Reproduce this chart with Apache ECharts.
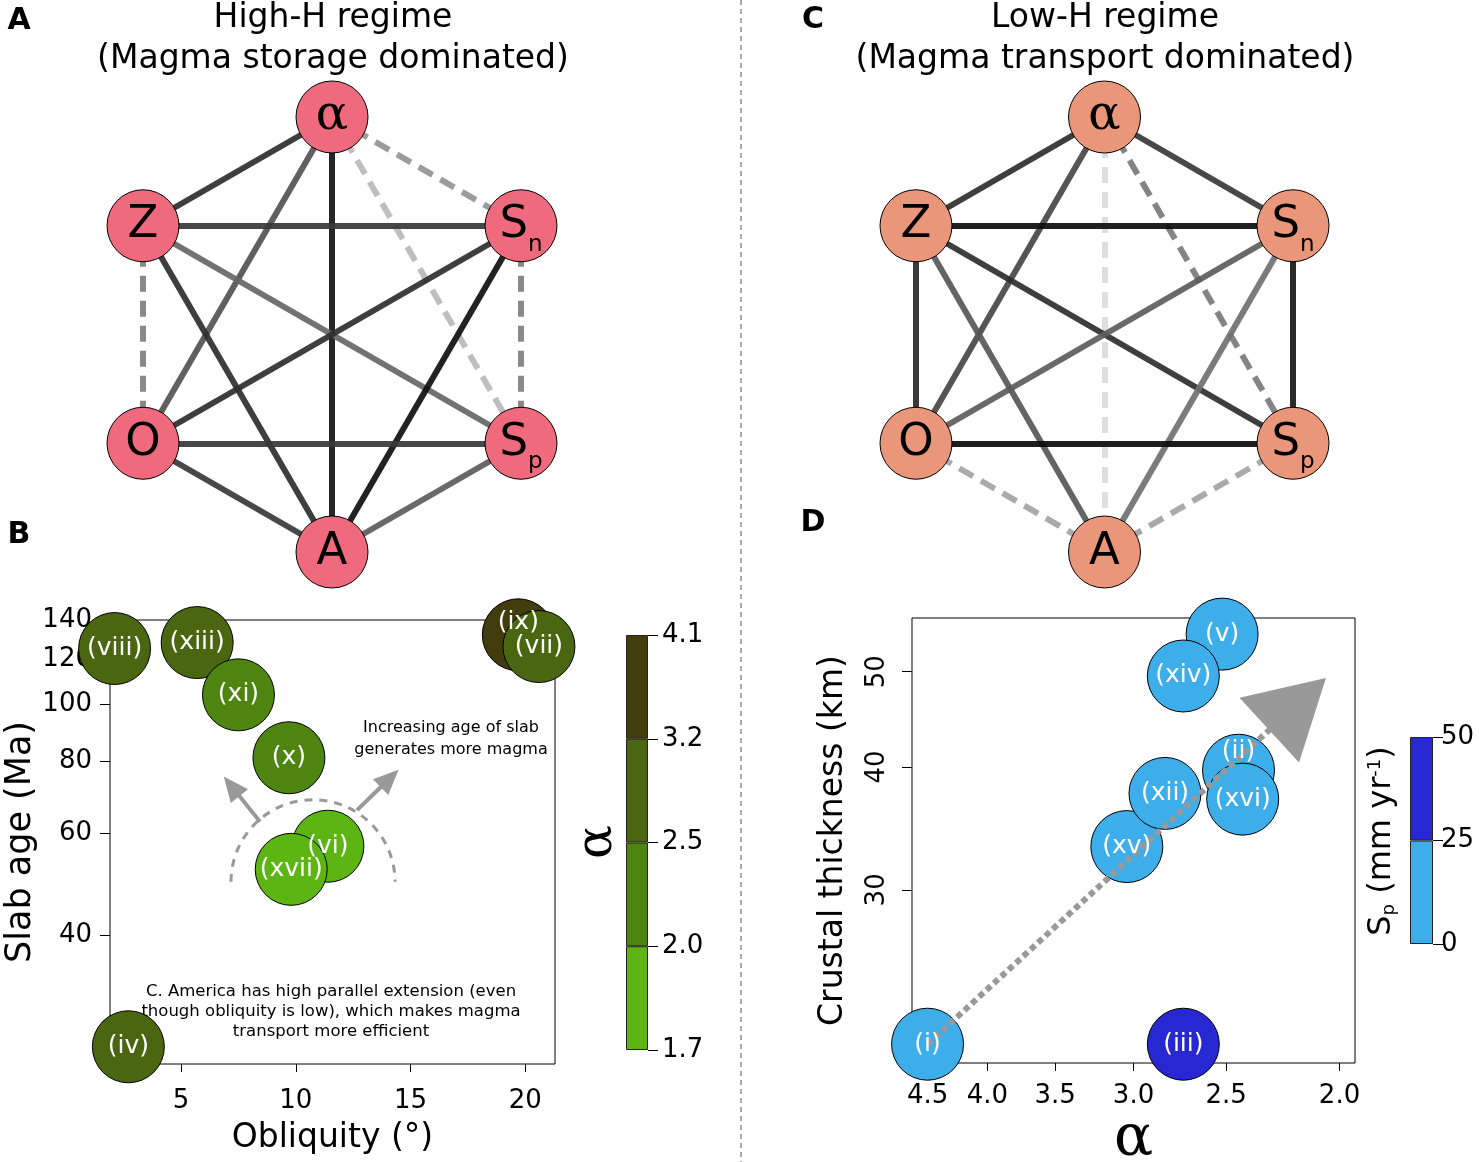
<!DOCTYPE html>
<html><head><meta charset="utf-8">
<script src="https://cdn.jsdelivr.net/npm/echarts@6/dist/echarts.min.js"></script>
<style>html,body{margin:0;padding:0;background:#fff}#c{width:1479px;height:1162px}</style>
</head><body><div id="c"></div>
<script>
// ---------------- DATA ----------------
// Network nodes (hexagon layout, unit radius)
const nodeNames  = ['alpha', 'Sn', 'Sp', 'A', 'O', 'Z'];
const nodeLabels = ['{g|α}', 'S{s|n}', 'S{s|p}', 'A', 'O', 'Z'];
const nodeX = [0, 0.866, 0.866, 0, -0.866, -0.866];
const nodeY = [1, 0.5, -0.5, -1, -0.5, 0.5];

// Edges: [source, target, correlation]; negative => dashed
const edgesHighH = [
  ['alpha','Z',0.82], ['alpha','Sn',-0.42], ['alpha','Sp',-0.28], ['alpha','A',0.92], ['alpha','O',0.68],
  ['Z','Sn',0.78], ['Z','O',-0.50], ['Z','Sp',0.60], ['Z','A',0.82],
  ['Sn','O',0.82], ['Sn','Sp',-0.50], ['Sn','A',0.94],
  ['O','Sp',0.78], ['O','A',0.78], ['Sp','A',0.64]
];
const edgesLowH = [
  ['alpha','Z',0.82], ['alpha','Sn',0.78], ['alpha','O',0.72], ['alpha','A',-0.14], ['alpha','Sp',-0.52],
  ['Z','Sn',0.95], ['Z','O',0.84], ['Z','Sp',0.82], ['Z','A',0.66],
  ['Sn','O',0.64], ['Sn','Sp',0.90], ['Sn','A',0.56],
  ['O','Sp',0.96], ['O','A',-0.36], ['Sp','A',-0.36]
];

// Panel B: obliquity vs slab age, coloured by alpha
const volcanoB   = ['(viii)', '(xiii)', '(xi)', '(x)', '(vi)', '(xvii)', '(ix)', '(vii)', '(iv)'];
const obliquityB = [2.1, 5.7, 7.5, 9.7, 11.4, 9.8, 19.7, 20.6, 2.7];
const slabAgeB   = [125, 128, 104, 81, 57, 52, 132, 126, 25.7];
const alphaB     = [2.8, 2.9, 2.2, 2.3, 1.8, 1.9, 3.5, 2.8, 2.9];
const obliquityTicks = [5, 10, 15, 20];
const slabAgeTicks   = [40, 60, 80, 100, 120, 140];
const alphaBins      = [1.7, 2.0, 2.5, 3.2, 4.1];

// Panel D: alpha vs crustal thickness, coloured by Sp
const volcanoD   = ['(i)', '(iii)', '(xv)', '(xii)', '(ii)', '(xvi)', '(v)', '(xiv)'];
const alphaD     = [4.5, 2.72, 3.04, 2.82, 2.44, 2.42, 2.52, 2.72];
const thicknessD = [20.9, 20.9, 33.2, 37.6, 39.7, 37.1, 54.6, 49.5];
const spD        = [10, 38, 12, 10, 8, 12, 10, 10];
const alphaTicksD     = [4.5, 4.0, 3.5, 3.0, 2.5, 2.0];
const thicknessTicksD = [30, 40, 50];
const spBins          = [0, 25, 50];

// Annotations (data coordinates)
const arrowsB = [[[8.44, 62.8], [7.2, 72.3]], [[12.67, 65.8], [14.09, 74.6]]];
const arcCenterB = [10.75, 49.5];
const trendArrowD = [[4.5, 20.9], [2.172, 46.36]];

// ---------------- STYLE ----------------
const FONT = 'DejaVu Sans';
const pinkNode = '#ef6a7c', salmonNode = '#ea967a';
const colorsB = ['#5cb513', '#4e8511', '#4a6611', '#433d0e'];
const colorsD = ['#3daeea', '#2828d2'];
const labelOffsets = {'(ii)': [0, -19], '(ix)': [0, -12]};

const chart = echarts.init(document.getElementById('c'), null, {renderer: 'canvas'});

function edgeStyle(r) {
  const g = Math.round(255 * (1 - Math.abs(r)));
  return {color: `rgb(${g},${g},${g})`, width: 6, opacity: 0.92, type: r < 0 ? [16, 9] : 'solid', curveness: 0};
}
function graphSeries(idx, edges, fill) {
  return {
    type: 'graph', coordinateSystem: 'cartesian2d', xAxisIndex: idx, yAxisIndex: idx,
    symbol: 'circle', symbolSize: 72, silent: true, z: 3,
    itemStyle: {color: fill, borderColor: '#000', borderWidth: 1},
    label: {
      show: true, position: 'inside', color: '#000', fontSize: 45, fontFamily: FONT,
      formatter: p => nodeLabels[p.dataIndex],
      rich: {g: {fontFamily: 'DejaVu Serif', fontSize: 48, color: '#000'},
             s: {fontSize: 23, color: '#000', verticalAlign: 'bottom', padding: [0, 0, -8, 0]}}
    },
    data: nodeNames.map((n, i) => ({name: n, value: [nodeX[i], nodeY[i]]})),
    links: edges.map(e => ({source: e[0], target: e[1], lineStyle: edgeStyle(e[2])}))
  };
}
function labelOverlay(axisIdx, names, xs, ys) {
  return {
    type: 'scatter', xAxisIndex: axisIdx, yAxisIndex: axisIdx, symbol: 'circle', symbolSize: 1, z: 5, silent: true,
    itemStyle: {color: 'rgba(0,0,0,0)', opacity: 1},
    label: {show: true, position: 'inside', color: '#ffffff', opacity: 1, textBorderWidth: 0,
            fontSize: 25, fontFamily: FONT, formatter: p => p.name},
    data: names.map((n, i) => ({name: n, value: [xs[i], ys[i]], label: {offset: labelOffsets[n] || [0, 0]}}))
  };
}

const tickLab = {color: '#000', fontSize: 26, fontFamily: FONT};
const hidden = {show: false};

const xAxes = [
  {gridIndex: 0, type: 'value', min: -0.866, max: 0.866, show: false},
  {gridIndex: 1, type: 'value', min: -0.866, max: 0.866, show: false},
  {gridIndex: 2, type: 'value', min: 1.9, max: 21.3, splitLine: hidden, axisLine: hidden,
   axisTick: {show: true, length: 8, customValues: obliquityTicks, lineStyle: {color: '#000'}},
   axisLabel: Object.assign({margin: 24, customValues: obliquityTicks}, tickLab),
   name: 'Obliquity (°)', nameLocation: 'middle', nameGap: 58,
   nameTextStyle: {fontSize: 33, fontFamily: FONT, color: '#000'}},
  {gridIndex: 3, type: 'category', data: [''], show: false},
  {gridIndex: 4, type: 'log', inverse: true, min: 1.94, max: 4.64, splitLine: hidden, axisLine: hidden,
   axisTick: {show: true, length: 8, customValues: alphaTicksD, lineStyle: {color: '#000'}},
   axisLabel: Object.assign({margin: 20, customValues: alphaTicksD, formatter: v => Number(v).toFixed(1)}, tickLab),
   name: 'α', nameLocation: 'middle', nameGap: 48,
   nameTextStyle: {fontSize: 58, fontFamily: 'DejaVu Serif', color: '#000'}},
  {gridIndex: 5, type: 'category', data: [''], show: false}
];
const yAxes = [
  {gridIndex: 0, type: 'value', min: -1, max: 1, show: false},
  {gridIndex: 1, type: 'value', min: -1, max: 1, show: false},
  {gridIndex: 2, type: 'log', min: 24, max: 140, splitLine: hidden, axisLine: hidden,
   axisTick: {show: true, length: 10, customValues: slabAgeTicks, lineStyle: {color: '#000'}},
   axisLabel: Object.assign({margin: 18, customValues: slabAgeTicks, formatter: v => Math.round(v)}, tickLab),
   name: 'Slab age (Ma)', nameLocation: 'middle', nameGap: 70,
   nameTextStyle: {fontSize: 35, fontFamily: FONT, color: '#000'}},
  {gridIndex: 3, type: 'value', position: 'right', min: 0, max: alphaBins.length - 1, interval: 1,
   splitLine: hidden, axisLine: hidden,
   axisTick: {show: true, length: 10, lineStyle: {color: '#000'}},
   axisLabel: Object.assign({margin: 14, formatter: v => alphaBins[v].toFixed(1)}, tickLab)},
  {gridIndex: 4, type: 'log', min: 20, max: 56.7, splitLine: hidden, axisLine: hidden,
   axisTick: {show: true, length: 10, customValues: thicknessTicksD, lineStyle: {color: '#000'}},
   axisLabel: Object.assign({margin: 22, rotate: 90, customValues: thicknessTicksD, formatter: v => Math.round(v)}, tickLab),
   name: 'Crustal thickness (km)', nameLocation: 'middle', nameGap: 62,
   nameTextStyle: {fontSize: 33, fontFamily: FONT, color: '#000'}},
  {gridIndex: 5, type: 'value', position: 'right', min: 0, max: spBins.length - 1, interval: 1,
   splitLine: hidden, axisLine: hidden,
   axisTick: {show: true, length: 10, lineStyle: {color: '#000'}},
   axisLabel: Object.assign({margin: 8, formatter: v => String(spBins[v])}, tickLab)}
];

const gridBase = {outerBoundsMode: 'none', containLabel: false};
const grids = [
  {left: 143, top: 117, width: 378, height: 435},
  {left: 916, top: 117, width: 377, height: 435},
  {left: 110, top: 620, width: 445, height: 444, show: true, borderColor: '#000', borderWidth: 1, backgroundColor: 'transparent'},
  {left: 626, top: 635, width: 22, height: 415},
  {left: 912, top: 618, width: 443, height: 445, show: true, borderColor: '#000', borderWidth: 1, backgroundColor: 'transparent'},
  {left: 1410, top: 737, width: 23, height: 207}
].map(g => Object.assign({}, gridBase, g));

const series = [];
series.push(graphSeries(0, edgesHighH, pinkNode));
series.push(graphSeries(1, edgesLowH, salmonNode));

// Annotation arrows in B
series.push({
  type: 'line', xAxisIndex: 2, yAxisIndex: 2, data: [], z: 1, silent: true,
  markLine: {
    silent: true, symbol: ['none', 'triangle'], symbolSize: [22, 25], label: {show: false},
    lineStyle: {color: '#999', width: 4, type: 'solid'},
    emphasis: {disabled: true},
    data: arrowsB.map(a => [{coord: a[0]}, {coord: a[1]}])
  }
});
const idxB = series.length;
series.push({
  type: 'scatter', xAxisIndex: 2, yAxisIndex: 2, symbolSize: 72, z: 3, silent: true,
  itemStyle: {borderColor: '#000', borderWidth: 1, opacity: 1},
  label: {show: false},
  data: volcanoB.map((n, i) => ({name: n, value: [obliquityB[i], slabAgeB[i], alphaB[i]]}))
});
series.push(labelOverlay(2, volcanoB, obliquityB, slabAgeB));
// colourbar B
for (let i = 0; i < alphaBins.length - 1; i++) {
  series.push({type: 'bar', xAxisIndex: 3, yAxisIndex: 3, stack: 'cbB', barWidth: '100%', silent: true,
    itemStyle: {color: colorsB[i], borderColor: '#222', borderWidth: 1}, data: [1]});
}
// D trend arrow
series.push({
  type: 'line', xAxisIndex: 4, yAxisIndex: 4, data: [], z: 1, silent: true,
  markLine: {
    silent: true, symbol: ['none', 'triangle'], symbolSize: [88, 77], label: {show: false},
    lineStyle: {color: '#999', width: 6, type: [6, 4], opacity: 1},
    emphasis: {disabled: true},
    data: [[{coord: trendArrowD[0]}, {coord: trendArrowD[1]}]]
  }
});
const idxD = series.length;
series.push({
  type: 'scatter', xAxisIndex: 4, yAxisIndex: 4, symbolSize: 72, z: 3, silent: true,
  itemStyle: {borderColor: '#000', borderWidth: 1, opacity: 1},
  label: {show: false},
  data: volcanoD.map((n, i) => ({name: n, value: [alphaD[i], thicknessD[i], spD[i]]}))
});
series.push(labelOverlay(4, volcanoD, alphaD, thicknessD));
for (let i = 0; i < spBins.length - 1; i++) {
  series.push({type: 'bar', xAxisIndex: 5, yAxisIndex: 5, stack: 'cbD', barWidth: '100%', silent: true,
    itemStyle: {color: colorsD[i], borderColor: '#222', borderWidth: 1}, data: [1]});
}

const piecesB = alphaBins.slice(0, -1).map((b, i) => i === alphaBins.length - 2
  ? {gte: b, lte: alphaBins[i + 1], color: colorsB[i]} : {gte: b, lt: alphaBins[i + 1], color: colorsB[i]});
const piecesD = spBins.slice(0, -1).map((b, i) => i === spBins.length - 2
  ? {gte: b, lte: spBins[i + 1], color: colorsD[i]} : {gte: b, lt: spBins[i + 1], color: colorsD[i]});

chart.setOption({
  backgroundColor: '#fff',
  animation: false,
  textStyle: {fontFamily: FONT},
  grid: grids, xAxis: xAxes, yAxis: yAxes, series: series,
  visualMap: [
    {type: 'piecewise', show: false, seriesIndex: idxB, dimension: 2, pieces: piecesB},
    {type: 'piecewise', show: false, seriesIndex: idxD, dimension: 2, pieces: piecesD}
  ]
});

// ---------- graphic annotations ----------
const arcC = chart.convertToPixel({xAxisIndex: 2, yAxisIndex: 2}, arcCenterB);
function txt(x, y, text, font, extra) {
  return {type: 'text', x: x, y: y, silent: true,
    style: Object.assign({text: text, fill: '#000', font: font, align: 'center', verticalAlign: 'middle'}, extra || {})};
}
const graphics = [
  {type: 'line', silent: true, shape: {x1: 741, y1: 0, x2: 741, y2: 1162}, style: {stroke: '#555', lineWidth: 1, lineDash: [5, 4]}},
  {type: 'arc', silent: true, z: 0, shape: {cx: arcC[0], cy: arcC[1], r: 82, startAngle: Math.PI, endAngle: 2 * Math.PI, clockwise: true},
   style: {stroke: '#999', fill: null, lineWidth: 3, lineDash: [8, 7]}},
  txt(333, 18, 'High-H regime', `33px "${FONT}"`),
  txt(333, 59, '(Magma storage dominated)', `33px "${FONT}"`),
  txt(1105, 18, 'Low-H regime', `33px "${FONT}"`),
  txt(1105, 59, '(Magma transport dominated)', `33px "${FONT}"`),
  txt(19, 21, 'A', `bold 30px "${FONT}"`),
  txt(19, 535, 'B', `bold 30px "${FONT}"`),
  txt(813, 20, 'C', `bold 30px "${FONT}"`),
  txt(813, 523, 'D', `bold 30px "${FONT}"`),
  txt(451, 739, 'Increasing age of slab\ngenerates more magma', `16px "${FONT}"`, {lineHeight: 22}),
  txt(331, 1012, 'C. America has high parallel extension (even\nthough obliquity is low), which makes magma\ntransport more efficient', `16.5px "${FONT}"`, {lineHeight: 20}),
  {type: 'text', x: 598, y: 842, rotation: Math.PI / 2, silent: true,
   style: {text: 'α', font: '50px "DejaVu Serif"', fill: '#000', align: 'center', verticalAlign: 'middle'}},
  {type: 'text', x: 1382, y: 841, rotation: Math.PI / 2, silent: true,
   style: {text: 'S{sub|p} (mm yr{sup|-1})', fontSize: 32, fontFamily: FONT, fill: '#000', align: 'center', verticalAlign: 'middle',
     rich: {sub: {fontSize: 18, fontFamily: FONT, verticalAlign: 'bottom', fill: '#000'},
            sup: {fontSize: 18, fontFamily: FONT, verticalAlign: 'top', fill: '#000'}}}}
];
chart.setOption({graphic: graphics});
</script></body></html>
